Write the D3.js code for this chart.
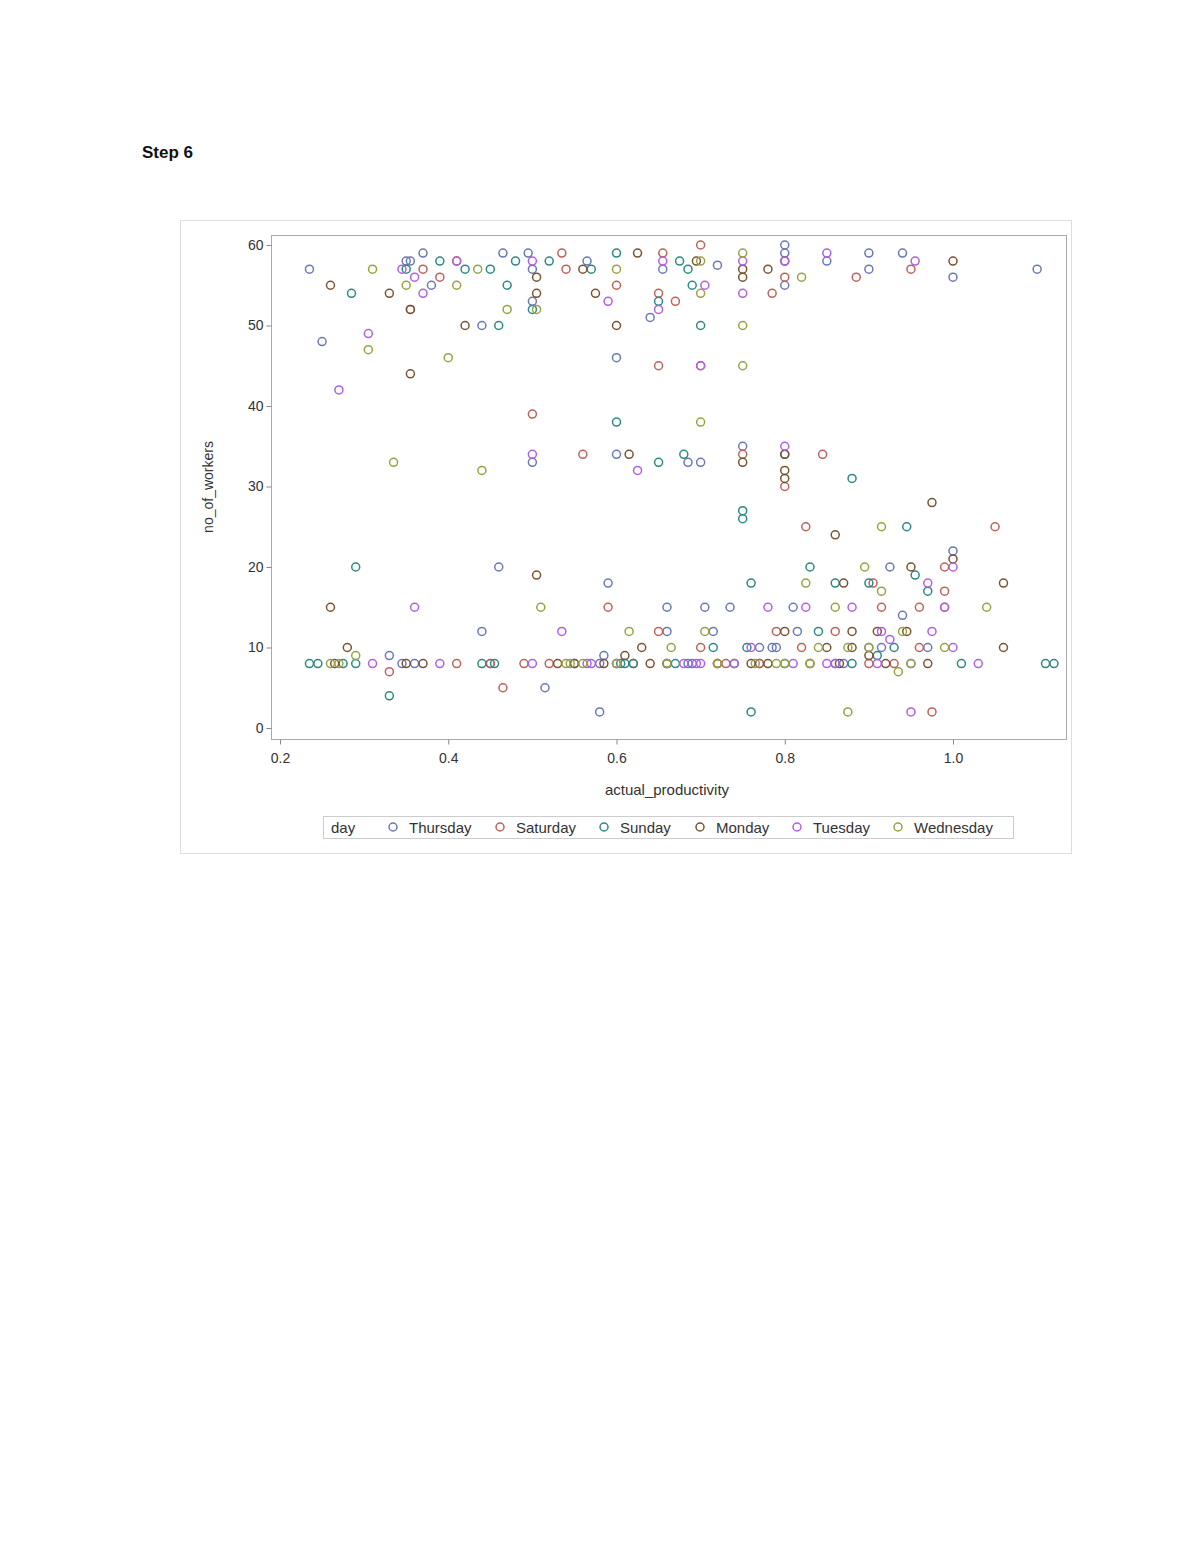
<!DOCTYPE html><html><head><meta charset="utf-8"><script src="https://cdn.jsdelivr.net/npm/d3@7"></script>
<style>body{margin:0;background:#fff}text{font-family:"Liberation Sans",Arial,sans-serif}</style></head><body><svg id="c" width="1200" height="1553"></svg><script>
const days=["Thursday","Saturday","Sunday","Monday","Tuesday","Wednesday"];
const colors=["#6a78b8","#c0605a","#2a8a82","#7a5330","#b25ee6","#98a33f"];
const xTicks=[0.2,0.4,0.6,0.8,1.0];
const yTicks=[0,10,20,30,40,50,60];
const thursday=[[0.235,57],[0.25,48],[0.33,9],[0.35,58],[0.355,58],[0.37,59],[0.38,55],[0.44,50],[0.44,12],[0.46,20],[0.465,59],[0.495,59],[0.5,57],[0.5,53],[0.5,33],[0.515,5],[0.565,58],[0.58,2],[0.585,9],[0.59,18],[0.6,46],[0.6,34],[0.64,51],[0.655,57],[0.66,15],[0.66,12],[0.685,33],[0.7,33],[0.705,15],[0.715,12],[0.72,57.5],[0.735,15],[0.75,35],[0.77,10],[0.79,10],[0.8,60],[0.8,59],[0.8,55],[0.81,15],[0.815,12],[0.85,58],[0.9,59],[0.9,57],[0.915,10],[0.925,20],[0.94,59],[0.94,14],[0.97,10],[1.0,22],[1.0,56],[1.1,57],[0.36,8],[0.45,8],[0.58,8],[0.69,8],[0.77,8],[0.87,8],[0.95,8],[0.345,8],[0.6,8],[0.685,8],[0.785,10],[0.9,10],[0.66,8]];
const saturday=[[0.33,7],[0.355,52],[0.37,57],[0.39,56],[0.41,58],[0.45,8],[0.465,5],[0.5,39],[0.535,59],[0.54,57],[0.56,34],[0.59,15],[0.6,55],[0.65,45],[0.65,54],[0.65,12],[0.655,59],[0.67,53],[0.7,60],[0.7,45],[0.75,34],[0.785,54],[0.8,30],[0.8,56],[0.825,25],[0.845,34],[0.86,12],[0.885,56],[0.905,18],[0.915,15],[0.95,57],[0.96,15],[0.975,2],[0.99,17],[0.99,20],[1.05,25],[0.49,8],[0.52,8],[0.73,8],[0.77,8],[0.82,10],[0.93,8],[0.96,10],[0.99,15],[0.7,10],[0.41,8],[0.62,8],[0.72,8],[0.9,8],[0.79,12]];
const sunday=[[0.235,8],[0.245,8],[0.285,54],[0.29,20],[0.275,8],[0.29,8],[0.33,4],[0.35,57],[0.39,58],[0.42,57],[0.45,57],[0.455,8],[0.46,50],[0.47,55],[0.48,58],[0.5,52],[0.52,58],[0.55,8],[0.57,57],[0.6,59],[0.6,38],[0.61,8],[0.65,53],[0.65,33],[0.675,58],[0.68,34],[0.685,57],[0.69,55],[0.7,50],[0.715,10],[0.75,27],[0.75,26],[0.755,10],[0.76,18],[0.76,2],[0.8,34],[0.83,20],[0.84,12],[0.86,18],[0.88,31],[0.9,18],[0.93,10],[0.945,25],[0.955,19],[0.97,17],[1.01,8],[1.11,8],[1.12,8],[0.88,8],[0.8,8],[0.67,8],[0.62,8],[0.44,8],[0.605,8],[0.74,8],[0.86,8],[0.91,9]];
const monday=[[0.26,55],[0.26,15],[0.265,8],[0.28,10],[0.33,54],[0.355,44],[0.355,52],[0.35,8],[0.37,8],[0.42,50],[0.505,56],[0.505,54],[0.505,19],[0.53,8],[0.55,8],[0.56,57],[0.575,54],[0.6,50],[0.61,9],[0.615,34],[0.625,59],[0.63,10],[0.66,8],[0.695,58],[0.72,8],[0.75,57],[0.75,56],[0.75,33],[0.78,57],[0.78,8],[0.8,58],[0.8,34],[0.8,31],[0.8,32],[0.8,12],[0.83,8],[0.85,10],[0.86,24],[0.865,8],[0.87,18],[0.88,12],[0.9,9],[0.91,12],[0.945,12],[0.95,20],[0.97,8],[0.975,28],[1.0,58],[1.0,21],[1.06,18],[1.06,10],[0.92,8],[0.88,10],[0.585,8],[0.64,8],[0.76,8]];
const tuesday=[[0.27,42],[0.305,49],[0.31,8],[0.345,57],[0.36,15],[0.36,56],[0.37,54],[0.39,8],[0.41,58],[0.5,58],[0.5,34],[0.5,8],[0.535,12],[0.57,8],[0.59,53],[0.6,8],[0.625,32],[0.65,52],[0.655,58],[0.7,45],[0.7,8],[0.705,55],[0.75,58],[0.75,54],[0.76,10],[0.78,15],[0.8,35],[0.8,58],[0.81,8],[0.825,15],[0.85,59],[0.88,15],[0.91,8],[0.915,12],[0.95,2],[0.955,58],[0.97,18],[0.975,12],[0.99,15],[1.0,20],[1.0,10],[1.03,8],[0.74,8],[0.86,8],[0.68,8],[0.565,8],[0.695,8],[0.925,11],[0.85,8]];
const wednesday=[[0.26,8],[0.27,8],[0.29,9],[0.305,47],[0.31,57],[0.335,33],[0.35,55],[0.4,46],[0.41,55],[0.435,57],[0.44,32],[0.47,52],[0.505,52],[0.51,15],[0.54,8],[0.6,57],[0.6,8],[0.615,12],[0.665,10],[0.7,38],[0.7,54],[0.7,58],[0.705,12],[0.72,8],[0.75,45],[0.75,50],[0.75,59],[0.765,8],[0.79,8],[0.82,56],[0.825,18],[0.84,10],[0.86,15],[0.875,2],[0.895,20],[0.9,10],[0.915,25],[0.915,17],[0.935,7],[0.94,12],[0.99,10],[1.04,15],[0.66,8],[0.83,8],[0.95,8],[0.545,8],[0.8,8],[0.56,8],[0.875,10]];
const series=[thursday,saturday,sunday,monday,tuesday,wednesday];

const svg=d3.select("#c");
svg.append("text").attr("x",142).attr("y",158).attr("font-size",17).attr("font-weight","bold").attr("fill","#111").text("Step 6");
svg.append("rect").attr("x",180.5).attr("y",220.5).attr("width",891).attr("height",633).attr("fill","none").attr("stroke","#ddd");
const L=271,R=1066,T=235,B=739;
const x=d3.scaleLinear().domain([0.2,1.0]).range([280,953]);
const y=d3.scaleLinear().domain([0,60]).range([728,245]);
svg.append("rect").attr("x",L+.5).attr("y",T+.5).attr("width",R-L).attr("height",B-T).attr("fill","none").attr("stroke","#aaa");
const xa=svg.append("g").attr("transform",`translate(0,${B+.5})`).call(d3.axisBottom(x).tickValues(xTicks).tickFormat(d3.format(".1f")).tickSize(5).tickSizeOuter(0));
const ya=svg.append("g").attr("transform",`translate(${L+.5},0)`).call(d3.axisLeft(y).tickValues(yTicks).tickSize(5).tickSizeOuter(0));
[xa,ya].forEach(a=>{a.select(".domain").remove();a.selectAll("line").attr("stroke","#888");a.selectAll("text").attr("font-size",14).attr("fill","#333");});
xa.selectAll("text").attr("dy","1.1em");
svg.append("text").attr("x",667).attr("y",795).attr("text-anchor","middle").attr("font-size",15).attr("fill","#333").text("actual_productivity");
svg.append("text").attr("transform","translate(213,487) rotate(-90)").attr("text-anchor","middle").attr("font-size",14).attr("fill","#333").text("no_of_workers");
series.forEach((s,i)=>{svg.append("g").selectAll("circle").data(s).join("circle").attr("cx",d=>x(d[0])).attr("cy",d=>y(d[1])).attr("r",4).attr("fill","none").attr("stroke",colors[i]).attr("stroke-width",1.5);});
svg.append("rect").attr("x",323.5).attr("y",816.5).attr("width",690).attr("height",22).attr("fill","none").attr("stroke","#ccc");
svg.append("text").attr("x",331).attr("y",833).attr("font-size",15).attr("fill","#333").text("day");
const lx=[393,500,604,700,797,898];
days.forEach((d,i)=>{svg.append("circle").attr("cx",lx[i]).attr("cy",827).attr("r",4).attr("fill","none").attr("stroke",colors[i]).attr("stroke-width",1.5);
svg.append("text").attr("x",lx[i]+16).attr("y",833).attr("font-size",15).attr("fill","#333").text(d);});
</script></body></html>
